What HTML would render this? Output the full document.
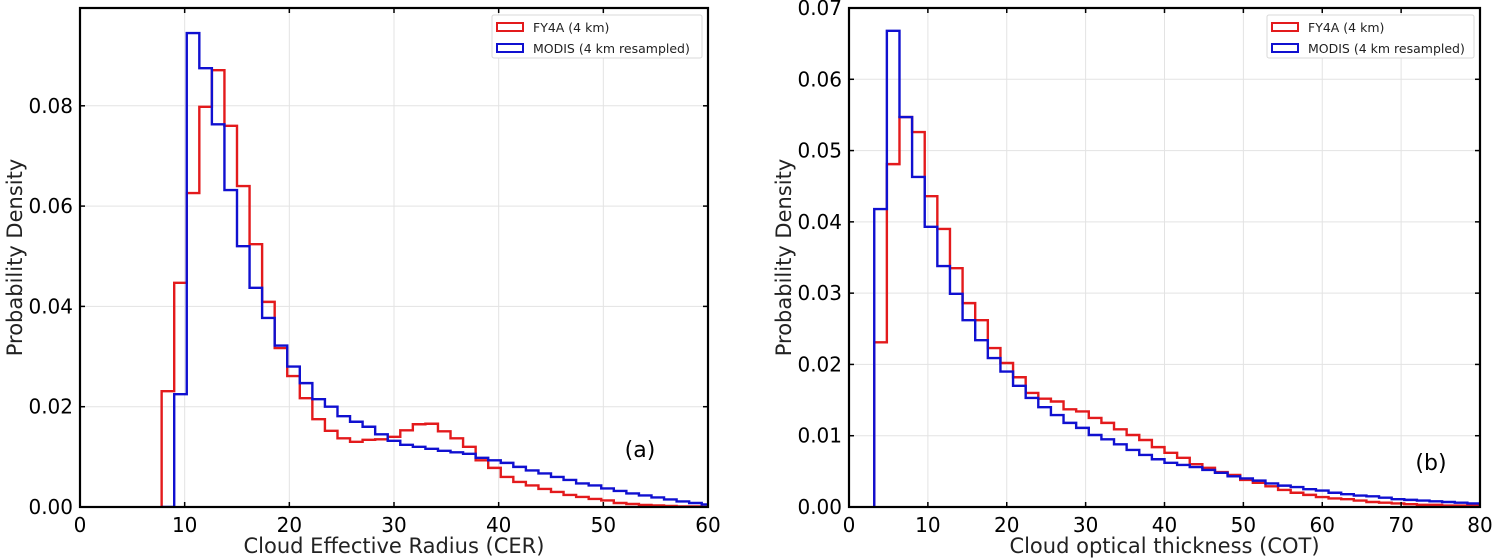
<!DOCTYPE html>
<html><head><meta charset="utf-8"><style>
html,body{margin:0;padding:0;background:#fff;}
svg{display:block;font-family:"DejaVu Sans","Liberation Sans",sans-serif;}
</style></head><body>
<svg id="chart" width="1498" height="560" viewBox="0 0 1498 560" xmlns="http://www.w3.org/2000/svg"></svg>
<script>
// Panel (a) data
const cerStart = 7.8, cerWidth = 1.2;
const cerFY4A = [0.0231,0.0447,0.0626,0.0798,0.0871,0.076,0.064,0.0524,0.0409,0.0317,0.0261,0.0217,0.0175,0.0152,0.0137,0.013,0.0134,0.0135,0.014,0.0153,0.0165,0.0166,0.0151,0.0137,0.012,0.0093,0.0078,0.006,0.005,0.0043,0.0036,0.003,0.0024,0.002,0.0016,0.0013,0.0008,0.0006,0.0004,0.0003,0.0002,0.0001,0.0001,0];
const cerMODIS = [0,0.0225,0.0945,0.0875,0.0763,0.0632,0.052,0.0437,0.0377,0.0322,0.028,0.0247,0.0215,0.02,0.0181,0.017,0.016,0.0145,0.0132,0.0124,0.012,0.0116,0.0112,0.0109,0.0106,0.0098,0.0093,0.0088,0.008,0.0073,0.0067,0.006,0.0054,0.0047,0.0043,0.0037,0.0032,0.0027,0.0023,0.0019,0.0015,0.0011,0.0008,0.0005];
const cerXTicks = [0,10,20,30,40,50,60];
const cerYTicks = [0,0.02,0.04,0.06,0.08];
const cerYLabels = ["0.00","0.02","0.04","0.06","0.08"];
// Panel (b) data
const cotStart = 3.2, cotWidth = 1.6;
const cotFY4A = [0.0231,0.0481,0.0547,0.0526,0.0436,0.039,0.0335,0.0286,0.0262,0.0223,0.0202,0.0182,0.016,0.0152,0.0148,0.0137,0.0134,0.0125,0.0118,0.0109,0.0101,0.0094,0.0084,0.0076,0.0069,0.006,0.0055,0.0049,0.0045,0.0038,0.0034,0.0029,0.0024,0.002,0.0017,0.0014,0.0012,0.0011,0.0009,0.0007,0.0006,0.0005,0.0004,0.0003,0.0003,0.0002,0.0002,0.0002];
const cotMODIS = [0.0418,0.0668,0.0547,0.0463,0.0393,0.0338,0.0299,0.0262,0.0234,0.0209,0.019,0.017,0.0153,0.014,0.0129,0.0118,0.0111,0.0101,0.0095,0.0088,0.008,0.0073,0.0067,0.0062,0.0059,0.0056,0.0052,0.0048,0.0043,0.004,0.0037,0.0033,0.003,0.0028,0.0025,0.0023,0.002,0.0018,0.0016,0.0015,0.0013,0.0011,0.001,0.0009,0.0008,0.0007,0.0006,0.0005];
const cotXTicks = [0,10,20,30,40,50,60,70,80];
const cotYTicks = [0,0.01,0.02,0.03,0.04,0.05,0.06,0.07];
const cotYLabels = ["0.00","0.01","0.02","0.03","0.04","0.05","0.06","0.07"];

const NS = "http://www.w3.org/2000/svg";
const svg = document.getElementById('chart');
function mk(tag, attrs, parent){const e=document.createElementNS(NS,tag);for(const k in attrs)e.setAttribute(k,attrs[k]);(parent||svg).appendChild(e);return e;}

function panel(cfg){
  const g = mk('g',{});
  
  
  const L=cfg.L,R=cfg.R,T=cfg.T,B=cfg.B;
  const sx = v => L + (v-cfg.xmin)/(cfg.xmax-cfg.xmin)*(R-L);
  const sy = v => B - (v-cfg.ymin)/(cfg.ymax-cfg.ymin)*(B-T);
  const clip = mk('clipPath',{id:cfg.name+'-clip'},g);
  mk('rect',{x:L,y:T,width:R-L,height:B-T},clip);
  cfg.xticks.forEach(t=>{
    const gl=mk('line',{x1:sx(t),x2:sx(t),y1:T,y2:B,stroke:'#e3e3e3','stroke-width':1},g);
    
    
  });
  cfg.yticks.forEach(t=>{
    const gl=mk('line',{x1:L,x2:R,y1:sy(t),y2:sy(t),stroke:'#e3e3e3','stroke-width':1},g);
    
    
  });
  cfg.series.forEach(s=>{
    let d = `M${sx(s.start)},${sy(0)}`;
    s.values.forEach((v,i)=>{
      const x0=sx(s.start+i*s.width), x1=sx(s.start+(i+1)*s.width);
      d += ` L${x0},${sy(v)} L${x1},${sy(v)}`;
    });
    d += ` L${sx(s.start+s.values.length*s.width)},${sy(0)}`;
    const p=mk('path',{d:d,fill:'none',stroke:s.color,'stroke-width':2.4,'clip-path':`url(#${cfg.name}-clip)`},g);
    
    
  });
  cfg.xticks.forEach(t=>{
    mk('line',{x1:sx(t),x2:sx(t),y1:B,y2:B-5,stroke:'#000','stroke-width':1.5},g);
    mk('line',{x1:sx(t),x2:sx(t),y1:T,y2:T+5,stroke:'#000','stroke-width':1.5},g);
    const tx=mk('text',{x:sx(t),y:B+25,'text-anchor':'middle','font-size':20,fill:'#000'},g);
    tx.textContent=t;
    
    
  });
  cfg.yticks.forEach((t,i)=>{
    mk('line',{x1:L,x2:L+5,y1:sy(t),y2:sy(t),stroke:'#000','stroke-width':1.5},g);
    mk('line',{x1:R,x2:R-5,y1:sy(t),y2:sy(t),stroke:'#000','stroke-width':1.5},g);
    const tx=mk('text',{x:L-7,y:sy(t)+7,'text-anchor':'end','font-size':20,fill:'#000'},g);
    tx.textContent=cfg.ylabels[i];
    
    
  });
  const fr=mk('rect',{x:L,y:T,width:R-L,height:B-T,fill:'none',stroke:'#000','stroke-width':2.2},g);
  
  
  const xt=mk('text',{x:(L+R)/2,y:553,'text-anchor':'middle','font-size':21,fill:'#222'},g);
  xt.textContent=cfg.xtitle;
  
  
  const yt=mk('text',{x:0,y:0,'text-anchor':'middle','font-size':21,fill:'#222',transform:`translate(${L-58},${(T+B)/2}) rotate(-90)`},g);
  yt.textContent='Probability Density';
  
  
  const pl=mk('text',{x:cfg.lblX,y:cfg.lblY,'text-anchor':'middle','font-size':22,fill:'#000'},g);
  pl.textContent=cfg.label;
  
  
  const lg=mk('g',{},g);
  
  
  const lx=cfg.legX, ly=T+7;
  mk('rect',{x:lx,y:ly,width:R-6-lx,height:43,fill:'#fff',stroke:'#d8d8d8','stroke-width':1,rx:2},lg);
  cfg.series.forEach((s,i)=>{
    const e=mk('g',{},lg);
    
    
    mk('rect',{x:lx+5,y:ly+8+i*21,width:26,height:8,fill:'none',stroke:s.color,'stroke-width':2},e);
    const t=mk('text',{x:lx+41,y:ly+17+i*21,'font-size':12.5,fill:'#222'},e);
    t.textContent=s.label;
  });
}

panel({name:'panel-a-cer',L:80,R:708,T:8,B:507,xmin:0,xmax:60,ymin:0,ymax:0.0995,
  xticks:cerXTicks,yticks:cerYTicks,ylabels:cerYLabels,xtitle:'Cloud Effective Radius (CER)',
  label:'(a)',lblX:640,lblY:457,legX:492,
  series:[{id:'fy4a-cer-step',color:'#e31a1c',label:'FY4A (4 km)',values:cerFY4A,start:cerStart,width:cerWidth},
          {id:'modis-cer-step',color:'#1010d0',label:'MODIS (4 km resampled)',values:cerMODIS,start:cerStart,width:cerWidth}]});
panel({name:'panel-b-cot',L:849,R:1480,T:8,B:507,xmin:0,xmax:80,ymin:0,ymax:0.07,
  xticks:cotXTicks,yticks:cotYTicks,ylabels:cotYLabels,xtitle:'Cloud optical thickness (COT)',
  label:'(b)',lblX:1431,lblY:470,legX:1267,
  series:[{id:'fy4a-cot-step',color:'#e31a1c',label:'FY4A (4 km)',values:cotFY4A,start:cotStart,width:cotWidth},
          {id:'modis-cot-step',color:'#1010d0',label:'MODIS (4 km resampled)',values:cotMODIS,start:cotStart,width:cotWidth}]});
</script>
</body></html>
